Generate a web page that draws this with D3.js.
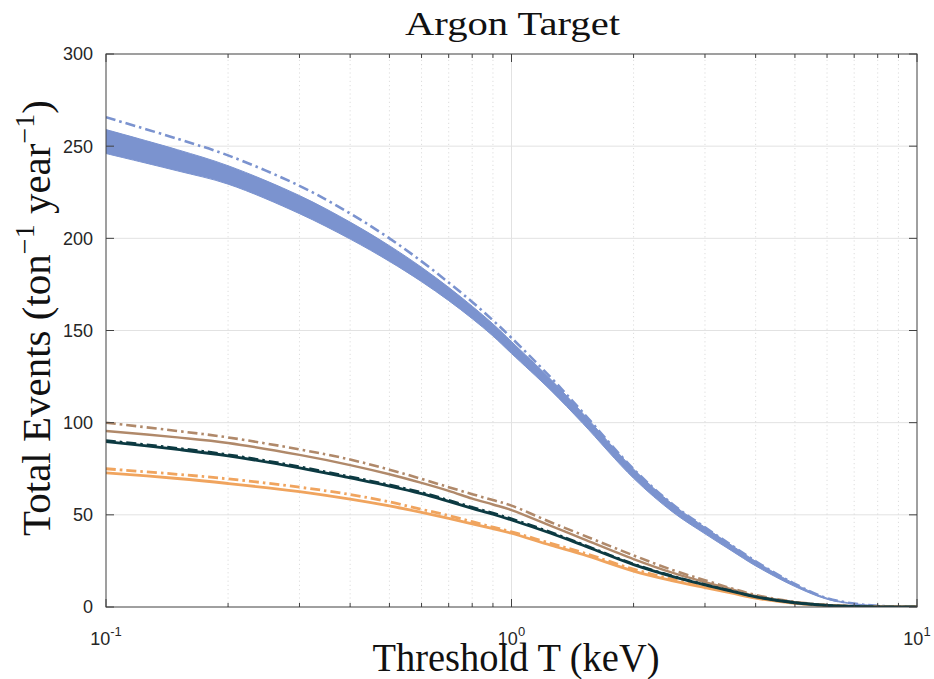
<!DOCTYPE html>
<html>
<head>
<meta charset="utf-8">
<script src="https://cdn.jsdelivr.net/npm/d3@7"></script>
<style>
  html, body { margin: 0; padding: 0; background: #fff; }
  svg { display: block; }
</style>
</head>
<body>
<svg id="chart" width="934" height="679"></svg>
<script>
// Threshold energies (keV)
const thresholds = [0.1, 0.15, 0.2, 0.3, 0.4, 0.5, 0.6, 0.7, 0.8, 0.9, 1, 1.25, 1.5, 2, 2.5, 3, 3.5, 4, 5, 6, 7, 8, 10];

// Argon: uncertainty band (upper / lower) and dash-dot reference curve
const argonUpper    = [259, 248.1, 239.4, 223.2, 208.8, 196, 184.3, 173.4, 163.2, 153.6, 144, 123.5, 105, 74.8, 55.6, 43.2, 33.3, 24.8, 12.5, 4.8, 1.85, 0.7, 0];
const argonLower    = [246, 236.6, 229.4, 213.4, 199.6, 187.5, 176.5, 166.2, 156.4, 147, 137.5, 117.5, 99.5, 69.8, 51.4, 39.7, 30.3, 22.3, 11.1, 4.2, 1.55, 0.5, 0];
const argonDashDot  = [265.7, 254, 245, 228.5, 213.5, 200, 187.5, 176, 165.5, 155.5, 146, 124.5, 105.5, 74.8, 55.6, 43.2, 33.3, 24.8, 12.5, 4.8, 1.85, 0.7, 0];

// Lower curves
const brownDashDot  = [100, 95.5, 92, 85.5, 80, 74.5, 69.5, 65, 61.2, 58, 55, 46, 39, 28, 20, 14.5, 10, 6.5, 2.8, 1.1, 0.4, 0.15, 0];
const brownSolid    = [95.5, 92, 89, 82.5, 77, 72, 67.3, 63, 58.8, 55.6, 52.6, 44, 37, 26, 18.5, 13.5, 9.5, 6, 2.5, 1, 0.4, 0.15, 0];
const tealSolid     = [89.7, 85.5, 82, 75.5, 70, 65.6, 61.5, 57.3, 53.5, 50.3, 47.2, 40, 33.5, 23, 16.5, 12, 8.5, 5.5, 2.3, 0.9, 0.35, 0.12, 0];
const tealDashDot   = [90.4, 86.2, 82.7, 76.2, 70.7, 66.3, 62.2, 58, 54.2, 51, 47.9, 40.6, 34, 23.4, 16.8, 12.2, 8.7, 5.6, 2.4, 0.9, 0.35, 0.12, 0];
const orangeDashDot = [75, 72, 69.5, 65, 61, 57, 53, 49.6, 46.3, 43.3, 40.8, 34.5, 29.5, 20.5, 15, 11, 8, 5.2, 2.2, 0.9, 0.35, 0.12, 0];
const orangeSolid   = [72.8, 69.7, 67, 62.6, 58.5, 54.8, 51.3, 48.1, 45.1, 42.5, 40, 33.5, 28.5, 19.5, 14.2, 10.5, 7.5, 4.8, 2, 0.8, 0.3, 0.1, 0];

// Axis ticks
const yTicks = [0, 50, 100, 150, 200, 250, 300];
const xMajorTicks = [0.1, 1, 10];
const xTickExponents = ["-1", "0", "1"];
const xMinorTicks = [0.2, 0.3, 0.4, 0.5, 0.6, 0.7, 0.8, 0.9, 2, 3, 4, 5, 6, 7, 8, 9];

const titleText = "Argon Target";
const xLabelText = "Threshold T (keV)";

const svg = d3.select("#chart");
const margin = { left: 106, right: 17, top: 54, bottom: 72 };
const W = 934, H = 679;
const x0 = margin.left, x1 = W - margin.right, y0 = H - margin.bottom, y1 = margin.top;

const x = d3.scaleLog().domain([0.1, 10]).range([x0, x1]);
const y = d3.scaleLinear().domain([0, 300]).range([y0, y1]);

const axisColor = "#404040";
const tickFont = "'Liberation Sans', Arial, sans-serif";
const serif = "'Liberation Serif', 'DejaVu Serif', serif";

// Grid
const grid = svg.append("g");
grid.selectAll(".ymaj").data(yTicks.slice(1, -1)).join("line")
  .attr("x1", x0).attr("x2", x1)
  .attr("y1", d => y(d)).attr("y2", d => y(d))
  .attr("stroke", "#e2e2e2").attr("stroke-width", 1);
grid.selectAll(".xmaj").data([1]).join("line")
  .attr("x1", d => x(d)).attr("x2", d => x(d))
  .attr("y1", y0).attr("y2", y1)
  .attr("stroke", "#e2e2e2").attr("stroke-width", 1);
grid.selectAll(".xmin").data(xMinorTicks).join("line")
  .attr("x1", d => x(d)).attr("x2", d => x(d))
  .attr("y1", y0).attr("y2", y1)
  .attr("stroke", "#d4d4d4").attr("stroke-width", 0.8)
  .attr("stroke-dasharray", "1.2,3");

// Curves (clipped to the axes box)
svg.append("clipPath").attr("id", "plotClip")
  .append("rect").attr("x", x0).attr("y", y1).attr("width", x1 - x0).attr("height", y0 - y1);

const pts = arr => thresholds.map((t, i) => [t, arr[i]]);
const smooth = d3.curveCatmullRom.alpha(0.5);
const line = d3.line().x(d => x(d[0])).y(d => y(d[1])).curve(smooth);
const area = d3.area()
  .x(d => x(d.t)).y0(d => y(d.lo)).y1(d => y(d.hi))
  .curve(smooth);

const plot = svg.append("g").attr("clip-path", "url(#plotClip)");
const dashDot = "10,4,2.5,4";

plot.append("path")
  .datum(thresholds.map((t, i) => ({ t, lo: argonLower[i], hi: argonUpper[i] })))
  .attr("d", area)
  .attr("fill", "#7b93cf").attr("stroke", "#7b93cf").attr("stroke-width", 1);

plot.append("path").datum(pts(argonDashDot)).attr("d", line)
  .attr("fill", "none").attr("stroke", "#7b93cf").attr("stroke-width", 2.6)
  .attr("stroke-dasharray", dashDot);

plot.append("path").datum(pts(brownSolid)).attr("d", line)
  .attr("fill", "none").attr("stroke", "#b0896a").attr("stroke-width", 2.4);
plot.append("path").datum(pts(brownDashDot)).attr("d", line)
  .attr("fill", "none").attr("stroke", "#b0896a").attr("stroke-width", 2.6)
  .attr("stroke-dasharray", dashDot);

plot.append("path").datum(pts(orangeSolid)).attr("d", line)
  .attr("fill", "none").attr("stroke", "#f0a45e").attr("stroke-width", 2.8);
plot.append("path").datum(pts(orangeDashDot)).attr("d", line)
  .attr("fill", "none").attr("stroke", "#f0a45e").attr("stroke-width", 2.8)
  .attr("stroke-dasharray", dashDot);

plot.append("path").datum(pts(tealSolid)).attr("d", line)
  .attr("fill", "none").attr("stroke", "#0c3a42").attr("stroke-width", 2.8);
plot.append("path").datum(pts(tealDashDot)).attr("d", line)
  .attr("fill", "none").attr("stroke", "#0c3a42").attr("stroke-width", 2.4)
  .attr("stroke-dasharray", dashDot);

// Box and ticks
const box = svg.append("g");
box.append("rect").attr("x", x0).attr("y", y1).attr("width", x1 - x0).attr("height", y0 - y1)
  .attr("fill", "none").attr("stroke", axisColor).attr("stroke-width", 1);

const tickLen = 8;
box.selectAll(".ytl").data(yTicks).join("line")
  .attr("x1", x0).attr("x2", x0 + tickLen).attr("y1", d => y(d)).attr("y2", d => y(d))
  .attr("stroke", axisColor);
box.selectAll(".ytr").data(yTicks).join("line")
  .attr("x1", x1).attr("x2", x1 - tickLen).attr("y1", d => y(d)).attr("y2", d => y(d))
  .attr("stroke", axisColor);
const allX = xMajorTicks.concat(xMinorTicks);
box.selectAll(".xtb").data(allX).join("line")
  .attr("x1", d => x(d)).attr("x2", d => x(d))
  .attr("y1", y0).attr("y2", d => y0 - (xMajorTicks.includes(d) ? tickLen : 4))
  .attr("stroke", axisColor);
box.selectAll(".xtt").data(allX).join("line")
  .attr("x1", d => x(d)).attr("x2", d => x(d))
  .attr("y1", y1).attr("y2", d => y1 + (xMajorTicks.includes(d) ? tickLen : 4))
  .attr("stroke", axisColor);

// Tick labels
svg.selectAll(".ylab").data(yTicks).join("text")
  .attr("x", x0 - 13).attr("y", d => y(d)).attr("dy", "0.36em")
  .attr("text-anchor", "end")
  .attr("font-family", tickFont).attr("font-size", 18).attr("fill", "#262626")
  .text(d => d);

const xl = svg.selectAll(".xlab").data(xMajorTicks).join("text")
  .attr("x", d => x(d)).attr("y", y0 + 38)
  .attr("text-anchor", "middle")
  .attr("font-family", tickFont).attr("font-size", 18).attr("fill", "#262626");
xl.append("tspan").text("10");
xl.append("tspan").attr("dy", -9).attr("font-size", 13).text((d, i) => xTickExponents[i]);

// Title and axis labels
svg.append("text")
  .attr("x", (x0 + x1) / 2 + 1).attr("y", 35)
  .attr("text-anchor", "middle")
  .attr("font-family", serif).attr("font-size", 33).attr("fill", "#111")
  .attr("textLength", 215).attr("lengthAdjust", "spacingAndGlyphs")
  .text(titleText);

svg.append("text")
  .attr("x", 516).attr("y", 671)
  .attr("text-anchor", "middle")
  .attr("font-family", serif).attr("font-size", 39).attr("fill", "#111")
  .attr("textLength", 287).attr("lengthAdjust", "spacingAndGlyphs")
  .text(xLabelText);

const yl = svg.append("text")
  .attr("transform", "translate(50, 318) rotate(-90)")
  .attr("text-anchor", "middle")
  .attr("font-family", serif).attr("font-size", 41).attr("fill", "#111");
yl.append("tspan").text("Total Events (ton");
yl.append("tspan").attr("dy", -16).attr("font-size", 28).text("\u22121");
yl.append("tspan").attr("dy", 16).text(" year");
yl.append("tspan").attr("dy", -16).attr("font-size", 28).text("\u22121");
yl.append("tspan").attr("dy", 16).text(")");
</script>
</body>
</html>
